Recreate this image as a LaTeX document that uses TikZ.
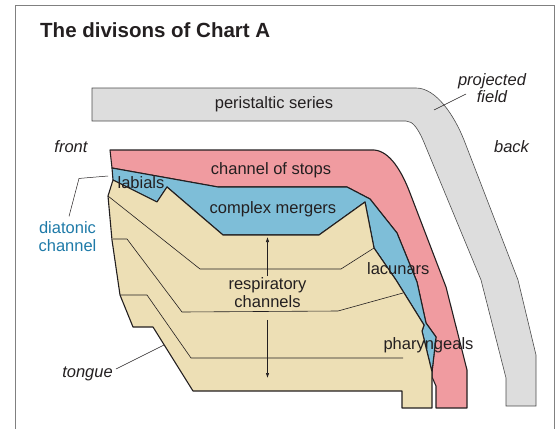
\documentclass[tikz,border=0pt]{standalone}
\usepackage{fontspec}
\setmainfont{Liberation Sans}
\usepackage{xcolor}
\usetikzlibrary{arrows.meta}

\definecolor{stopred}{RGB}{240,155,160}
\definecolor{mergeblue}{RGB}{126,190,216}
\definecolor{tonguetan}{RGB}{237,223,181}
\definecolor{fieldgray}{RGB}{221,221,221}
\definecolor{labelink}{RGB}{35,31,32}
\definecolor{diablue}{RGB}{30,122,168}

\begin{document}
\begin{tikzpicture}[x=1pt,y=-1pt,
    every node/.style={font=\fontsize{16.5}{18}\selectfont, text=labelink,
        inner sep=0pt, align=center},
    side/.style={font=\fontsize{16.5}{17}\selectfont\itshape},
    region/.style={draw=labelink, line width=1.1pt, line join=round},
    inner line/.style={draw=labelink, line width=0.6pt},
    leader/.style={draw=labelink, line width=0.5pt},
    ray/.style={draw=labelink, line width=0.6pt, -{Latex[length=5pt,width=3.5pt]}}]
    \useasboundingbox (0,0) rectangle (556,428);
    \clip (0,0) rectangle (556,428);

    % frame
    \draw[gray, line width=1pt] (15.7,440) -- (15.7,5.7) -- (554,5.7) -- (554,440);

    % projected field
    \filldraw[fill=fieldgray, draw=black!70, line width=0.6pt]
        (92,88) -- (416,88) .. controls (436,88) and (454,115) .. (464,140)
        -- (518,280) -- (536,355) -- (536,406) -- (506,406) -- (506,378)
        -- (481,280) -- (423,140) .. controls (418,129) and (413,121) .. (406,121)
        -- (92,121) -- cycle;

    % channel of stops
    \filldraw[region, fill=stopred]
        (110,150) -- (374,150) .. controls (390,151) and (402,172) .. (410,193)
        -- (446,287) -- (467,370) -- (467,408) -- (436,408) -- (436,386)
        -- (432,377) -- (432,372) -- (436,337) -- (426,323) -- (417,282)
        -- (397,233) -- (370,199) -- (347,187) -- (218,187) -- (112,168) -- cycle;

    % complex mergers
    \filldraw[region, fill=mergeblue]
        (112,168) -- (218,187) -- (347,187) -- (370,199) -- (397,233) -- (417,282)
        -- (426,323) -- (436,337) -- (432,372) -- (422,331) -- (424,325) -- (396,280)
        -- (374,248) -- (365,202) -- (319,235) -- (223,235) -- (167,187) -- (157,202)
        -- (113,180) -- cycle;

    % tongue
    \filldraw[region, fill=tonguetan]
        (113,180) -- (157,202) -- (167,187) -- (223,235) -- (319,235) -- (365,202)
        -- (374,248) -- (396,280) -- (424,325) -- (422,331) -- (432,372) -- (432,408)
        -- (402,408) -- (402,391) -- (193,391) -- (153,327) -- (133,327) -- (120,295)
        -- (112,240) -- (108,196) -- cycle;
    \draw[inner line] (108,196) -- (200,269) -- (341,269) -- (374,248);
    \draw[inner line] (113,239) -- (127,239) -- (182,312) -- (338,311) -- (403,293);
    \draw[inner line] (120,295) -- (147,295) -- (191,358) -- (403,358);

    % labels
    \node[font=\fontsize{20.5}{24}\selectfont\bfseries, anchor=base west]
        (title) at (40,37.3) {The divisons of Chart A};
    \node (peristaltic) at (274,104) {peristaltic series};
    \node[side] (projected) at (492,88.5) {projected\\field};
    \node[side] (front) at (71,147) {front};
    \node[side] (back) at (511.5,147) {back};
    \node (stops) at (271,170.7) {channel of stops};
    \node (mergers) at (273,209.3) {complex mergers};
    \node (labials) at (141,183) {labials};
    \node (lacunars) at (398.3,268.3) {lacunars};
    \node (respiratory) at (267.5,292.5) {respiratory\\channels};
    \node (pharyngeals) at (428.5,345.7) {pharyngeals};
    \node[side] (tongue) at (87.5,374) {tongue};
    \node[text=diablue] (diatonic) at (67.5,236.7) {diatonic\\channel};

    % leaders and arrows
    \coordinate (field end) at (434,110);
    \coordinate (diatonic end) at (108,176);
    \coordinate (tongue end) at (164,345);
    \coordinate (mergers floor) at (267.5,237);
    \coordinate (tongue floor) at (267.5,378);
    \draw[leader] (projected) ++(-26,5.5) -- (field end);
    \draw[leader] (diatonic.north) ++(1.5,-5) -- ++(10,-38) -- (diatonic end);
    \draw[leader] (tongue.east) ++(3,-5) -- (tongue end);
    \draw[ray] (respiratory.north) ++(0,-1) -- (mergers floor);
    \draw[ray] (respiratory.south) ++(0,12) -- (tongue floor);
\end{tikzpicture}
\end{document}
